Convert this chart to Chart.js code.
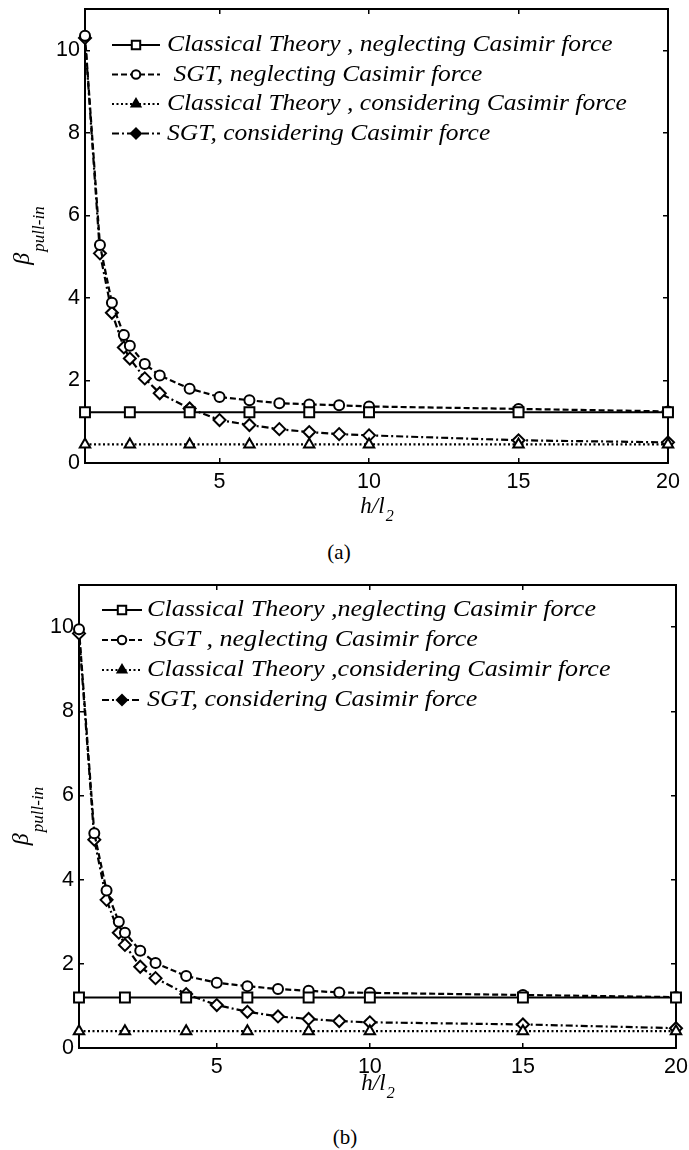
<!DOCTYPE html>
<html>
<head>
<meta charset="utf-8">
<script src="https://cdn.jsdelivr.net/npm/chart.js@4.4.0/dist/chart.umd.min.js"></script>
<style>
  body { margin: 0; background: #fff; width: 689px; height: 1150px; position: relative; overflow: hidden; }
  .panel { position: absolute; left: 0; }
  .caption { position: absolute; width: 100px; text-align: center; font: 21px "Liberation Serif", serif; line-height: 22px; color: #000; }
</style>
</head>
<body>
<div class="panel" style="top:0"><canvas id="chart-a" width="689" height="530"></canvas></div>
<div class="caption" style="left:289px;top:541px">(a)</div>
<div class="panel" style="top:576px"><canvas id="chart-b" width="689" height="530"></canvas></div>
<div class="caption" style="left:295px;top:1126px">(b)</div>

<script>
// x positions of the markers
const X_CLASSIC = [0.5, 2, 4, 6, 8, 10, 15, 20];
const X_SGT = [0.5, 1, 1.4, 1.8, 2, 2.5, 3, 4, 5, 6, 7, 8, 9, 10, 15, 20];

const X_TICKS = [5, 10, 15, 20];
const Y_TICKS = [0, 2, 4, 6, 8, 10];
const X_RANGE = [0.5, 20];
const Y_RANGE = [0, 11];

// panel (a)
const A_CLASSIC_NEG = [1.23, 1.23, 1.23, 1.23, 1.23, 1.23, 1.23, 1.23];
const A_SGT_NEG = [10.35, 5.28, 3.88, 3.1, 2.84, 2.4, 2.12, 1.8, 1.6, 1.52, 1.45, 1.42, 1.4, 1.37, 1.31, 1.25];
const A_CLASSIC_CAS = [0.45, 0.45, 0.45, 0.45, 0.45, 0.45, 0.45, 0.45];
const A_SGT_CAS = [10.3, 5.08, 3.64, 2.8, 2.53, 2.05, 1.69, 1.32, 1.04, 0.92, 0.82, 0.75, 0.7, 0.67, 0.55, 0.5];
const LABELS_A = [
    'Classical Theory , neglecting Casimir force',
    ' SGT, neglecting Casimir force',
    'Classical Theory , considering Casimir force',
    'SGT, considering Casimir force'
];

// panel (b)
const B_CLASSIC_NEG = [1.2, 1.2, 1.2, 1.2, 1.2, 1.2, 1.2, 1.2];
const B_SGT_NEG = [9.95, 5.1, 3.74, 3.0, 2.74, 2.31, 2.02, 1.71, 1.55, 1.47, 1.4, 1.36, 1.32, 1.31, 1.26, 1.21];
const B_CLASSIC_CAS = [0.4, 0.4, 0.4, 0.4, 0.4, 0.4, 0.4, 0.4];
const B_SGT_CAS = [9.85, 4.95, 3.52, 2.74, 2.45, 1.93, 1.66, 1.28, 1.02, 0.86, 0.75, 0.69, 0.64, 0.61, 0.56, 0.47];
const LABELS_B = [
    'Classical Theory ,neglecting Casimir force',
    ' SGT , neglecting Casimir force',
    'Classical Theory ,considering Casimir force',
    'SGT, considering Casimir force'
];

const SERIES_STYLE = [
    { dash: [], pointStyle: 'rect', radius: 7, legendFill: '#fff' },
    { dash: [6, 3], pointStyle: 'circle', radius: 5, legendFill: '#fff' },
    { dash: [2, 2.5], pointStyle: 'triangle', radius: 6, legendFill: '#000' },
    { dash: [7, 3, 2, 3], pointStyle: 'rectRot', radius: 6, legendFill: '#000' }
];

const TICK_FONT = { family: '"Liberation Sans", Arial, sans-serif', size: 21.5 };
const SERIF = '"Liberation Serif", "Times New Roman", serif';

function toPoints(xs, ys) {
    return xs.map((x, i) => ({ x: x, y: ys[i] }));
}

function makeDatasets(series, labels) {
    return series.map((s, i) => {
        const st = SERIES_STYLE[i];
        return {
            label: labels[i],
            data: toPoints(s.x, s.y),
            borderColor: '#000',
            borderWidth: 2.2,
            borderDash: st.dash,
            pointStyle: st.pointStyle,
            pointRadius: st.radius,
            pointBorderWidth: 2,
            pointBorderColor: '#000',
            pointBackgroundColor: '#fff',
            fill: false,
            tension: 0,
            clip: false
        };
    });
}

// legend drawn inside the plot, line sample + marker + italic label
const sketchLegend = {
    id: 'sketchLegend',
    afterDraw(chart, args, opts) {
        const ctx = chart.ctx;
        ctx.save();
        chart.data.datasets.forEach((ds, i) => {
            const y = opts.top + i * opts.rowGap;
            ctx.strokeStyle = '#000';
            ctx.lineWidth = 2.2;
            ctx.setLineDash(ds.borderDash);
            ctx.beginPath();
            ctx.moveTo(opts.lineStart, y);
            ctx.lineTo(opts.lineEnd, y);
            ctx.stroke();
            ctx.setLineDash([]);
            ctx.fillStyle = SERIES_STYLE[i].legendFill;
            ctx.lineWidth = 2;
            Chart.helpers.drawPoint(ctx, {
                pointStyle: ds.pointStyle, radius: ds.pointRadius * 0.85, rotation: 0, borderWidth: 2
            }, (opts.lineStart + opts.lineEnd) / 2, y);
            ctx.fillStyle = '#000';
            ctx.font = opts.font;
            ctx.textAlign = 'left';
            ctx.textBaseline = 'middle';
            ctx.save();
            ctx.translate(opts.textX, y);
            ctx.scale(opts.stretch, 1);
            ctx.fillText(ds.label, 0, 0);
            ctx.restore();
        });
        ctx.restore();
    }
};

// axis titles with subscripts: h/l2 and beta_pull-in
const axisTitles = {
    id: 'axisTitles',
    afterDraw(chart, args, opts) {
        const ctx = chart.ctx;
        const a = chart.chartArea;
        ctx.save();
        ctx.fillStyle = '#000';
        ctx.textBaseline = 'alphabetic';
        ctx.textAlign = 'left';

        const mainX = 'italic 23px ' + SERIF, subX = 'italic 16px ' + SERIF;
        ctx.font = mainX;
        const w1 = ctx.measureText('h/l').width;
        ctx.font = subX;
        const w2 = ctx.measureText('2').width;
        const x0 = (a.left + a.right) / 2 - (w1 + w2) / 2;
        ctx.font = mainX;
        ctx.fillText('h/l', x0, opts.xBaseline);
        ctx.font = subX;
        ctx.fillText('2', x0 + w1 + 1, opts.xBaseline + 8);

        ctx.translate(opts.yBaseline, (a.top + a.bottom) / 2);
        ctx.rotate(-Math.PI / 2);
        const mainY = 'italic 24px ' + SERIF, subY = 'italic 17px ' + SERIF;
        ctx.font = mainY;
        const b1 = ctx.measureText('\u03b2').width;
        ctx.font = subY;
        const b2 = ctx.measureText('pull-in').width;
        const s0 = -(b1 + b2) / 2;
        ctx.font = mainY;
        ctx.fillText('\u03b2', s0, 0);
        ctx.font = subY;
        ctx.fillText('pull-in', s0 + b1 + 1, 15);
        ctx.restore();
    }
};

function fixTicks(values) {
    return scale => { scale.ticks = values.map(v => ({ value: v })); };
}

function sized(prop, value) {
    return scale => {
        scale[prop] = value;
        scale.paddingTop = 0;
        scale.paddingBottom = 0;
        scale.paddingLeft = 0;
        scale.paddingRight = 0;
    };
}

function frameGrid() {
    return { display: true, drawOnChartArea: false, tickLength: -5, color: '#000', lineWidth: 1.5 };
}

function buildChart(id, series, labels, geom) {
    const ctx = document.getElementById(id).getContext('2d');
    const border = { display: true, color: '#000', width: 2 };
    return new Chart(ctx, {
        type: 'line',
        data: { datasets: makeDatasets(series, labels) },
        options: {
            responsive: false,
            animation: false,
            events: [],
            layout: { padding: { left: 0, top: geom.padTop, right: geom.padRight, bottom: 0 } },
            scales: {
                x: {
                    type: 'linear', position: 'bottom', min: X_RANGE[0], max: X_RANGE[1],
                    afterBuildTicks: fixTicks(X_TICKS),
                    afterFit: sized('height', geom.xHeight),
                    grid: frameGrid(), border: border,
                    ticks: { font: TICK_FONT, color: '#000', padding: 11, maxRotation: 0 }
                },
                x2: {
                    type: 'linear', position: 'top', min: X_RANGE[0], max: X_RANGE[1],
                    afterBuildTicks: fixTicks(X_TICKS),
                    afterFit: sized('height', 0),
                    grid: frameGrid(), border: border,
                    ticks: { display: false }
                },
                y: {
                    type: 'linear', position: 'left', min: Y_RANGE[0], max: Y_RANGE[1],
                    afterBuildTicks: fixTicks(Y_TICKS),
                    afterFit: sized('width', geom.yWidth),
                    grid: frameGrid(), border: border,
                    ticks: { font: TICK_FONT, color: '#000', padding: 10 }
                },
                y2: {
                    type: 'linear', position: 'right', min: Y_RANGE[0], max: Y_RANGE[1],
                    afterBuildTicks: fixTicks(Y_TICKS),
                    afterFit: sized('width', 0),
                    grid: frameGrid(), border: border,
                    ticks: { display: false }
                }
            },
            plugins: {
                legend: { display: false },
                tooltip: { enabled: false },
                sketchLegend: geom.legend,
                axisTitles: geom.titles
            }
        },
        plugins: [sketchLegend, axisTitles]
    });
}

buildChart('chart-a', [
    { x: X_CLASSIC, y: A_CLASSIC_NEG },
    { x: X_SGT, y: A_SGT_NEG },
    { x: X_CLASSIC, y: A_CLASSIC_CAS },
    { x: X_SGT, y: A_SGT_CAS }
], LABELS_A, {
    padTop: 8, padRight: 21, yWidth: 85, xHeight: 67,
    legend: { top: 45, rowGap: 29.5, lineStart: 112, lineEnd: 160, textX: 167, stretch: 1.086, font: 'italic 23.5px ' + SERIF },
    titles: { xBaseline: 513, yBaseline: 29 }
});

buildChart('chart-b', [
    { x: X_CLASSIC, y: B_CLASSIC_NEG },
    { x: X_SGT, y: B_SGT_NEG },
    { x: X_CLASSIC, y: B_CLASSIC_CAS },
    { x: X_SGT, y: B_SGT_CAS }
], LABELS_B, {
    padTop: 8, padRight: 13, yWidth: 79, xHeight: 58,
    legend: { top: 34, rowGap: 30, lineStart: 102, lineEnd: 142, textX: 147, stretch: 1.11, font: 'italic 23.5px ' + SERIF },
    titles: { xBaseline: 514, yBaseline: 28 }
});
</script>
</body>
</html>
